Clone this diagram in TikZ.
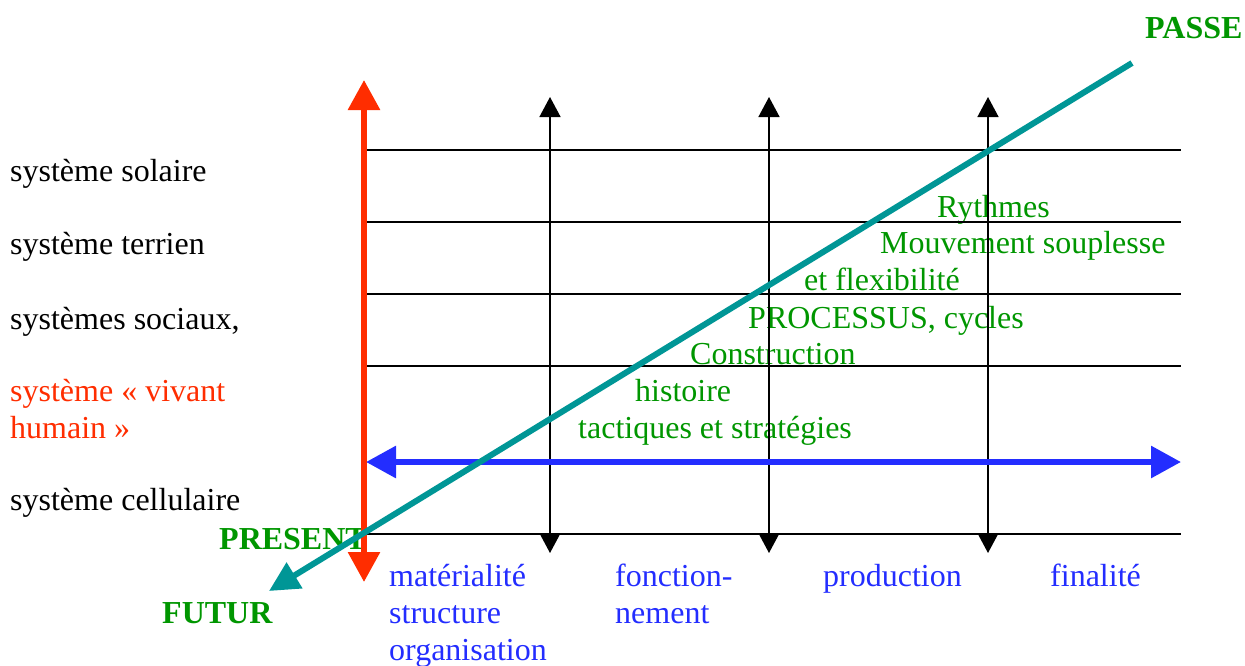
\documentclass[tikz,border=0pt]{standalone}
\usepackage{fontspec}
\setmainfont{Liberation Serif}
\usetikzlibrary{arrows.meta}

\definecolor{vert}{RGB}{0,150,0}
\definecolor{bleu}{RGB}{35,45,255}
\definecolor{rouge}{RGB}{255,45,0}
\definecolor{canard}{RGB}{0,150,150}

\begin{document}
\begin{tikzpicture}[x=1pt,y=-1pt,
  every node/.style={inner sep=0pt,anchor=base west,font=\fontsize{32}{37}\selectfont},
  domaine/.style={text=bleu,align=left},
  etape/.style={text=vert},
  temps/.style={text=vert,font=\fontsize{32}{37}\selectfont\bfseries},
  trait/.style={line width=1.5pt},
  fleche/.style={trait,{Triangle[length=20pt,width=21pt]}-{Triangle[length=20pt,width=21pt]}},
  epais/.style={line width=6pt,{Triangle[length=30pt,width=31pt]}-{Triangle[length=30pt,width=31pt]}}]
  \useasboundingbox (0,0) rectangle (1245,665);

  % niveaux d'organisation (base = derniere ligne)
  \node (solaire) at (10,181) {système solaire};
  \node (terrien) at (10,254) {système terrien};
  \node (sociaux) at (10,329) {systèmes sociaux,};
  \node[text=rouge,align=left] (vivant) at (10,438) {système « vivant\\humain »};
  \node (cellulaire) at (10,510) {système cellulaire};

  % domaines
  \node[domaine] (materialite) at (389,660) {matérialité\\structure\\organisation};
  \node[domaine] (fonction) at (615,623) {fonction-\\nement};
  \node[domaine] (production) at (823,586) {production};
  \node[domaine] (finalite) at (1050,586) {finalité};

  % le long de la diagonale
  \node[etape] (rythmes) at (937,217) {Rythmes};
  \node[etape] (mouvement) at (880,253) {Mouvement souplesse};
  \node[etape] (flexibilite) at (804,290) {et flexibilité};
  \node[etape] (processus) at (748,328) {PROCESSUS, cycles};
  \node[etape] (construction) at (690,364) {Construction};
  \node[etape] (histoire) at (635,401) {histoire};
  \node[etape] (tactiques) at (578,438) {tactiques et stratégies};

  \node[temps] (passe) at (1145,38) {PASSE};
  \node[temps] (present) at (219,549) {PRESENT};
  \node[temps] (futur) at (162,623) {FUTUR};

  % grille
  \foreach \y [count=\i] in {150,222,294,366,534} {
    \coordinate (g\i) at (364,\y);
    \coordinate (d\i) at (1181,\y);
    \draw[trait] (g\i) -- (d\i);
  }
  \foreach \x [count=\i] in {550,769,988} {
    \coordinate (h\i) at (\x,97);
    \coordinate (b\i) at (\x,553);
    \draw[fleche] (b\i) -- (h\i);
  }

  \coordinate (ouest) at (366,462);
  \coordinate (est) at (1181,462);
  \draw[epais,bleu] (ouest) -- (est);

  \coordinate (haut) at (364,80);
  \coordinate (bas) at (364,582);
  \draw[epais,rouge] (bas) -- (haut);

  \coordinate (origine) at (1132,63);
  \coordinate (avenir) at (269,591);
  \draw[canard,line width=6pt,-{Triangle[length=30pt,width=29pt]}] (origine) -- (avenir);
\end{tikzpicture}
\end{document}
